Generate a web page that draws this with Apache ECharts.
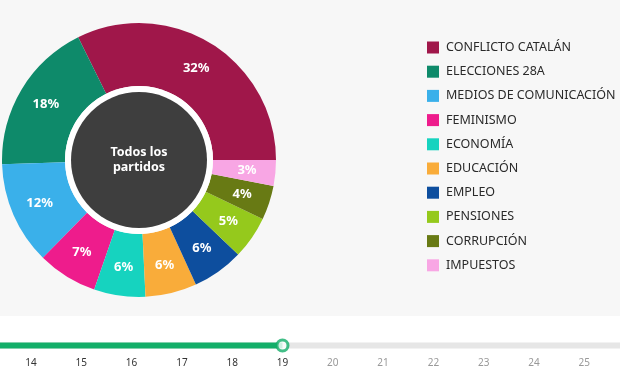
<!DOCTYPE html>
<html><head><meta charset="utf-8">
<script src="https://cdn.jsdelivr.net/npm/echarts@6/dist/echarts.min.js"></script>
<style>html,body{margin:0;padding:0;background:#fff}#c{width:620px;height:368px}</style>
</head><body><div id="c"></div>
<script>
const categories = ['CONFLICTO CATALÁN','ELECCIONES 28A','MEDIOS DE COMUNICACIÓN','FEMINISMO','ECONOMÍA','EDUCACIÓN','EMPLEO','PENSIONES','CORRUPCIÓN','IMPUESTOS'];
const values = [32, 18, 12, 7, 6, 6, 6, 5, 4, 3];
const colors = ['#a0174a','#0e8a6a','#3ab0ea','#ee1c8c','#16d3bf','#f9ac3a','#0d4e9e','#95c91c','#687a14','#f8a6e4'];
const centerLabel = 'Todos los\npartidos';
const days = [14,15,16,17,18,19,20,21,22,23,24,25];
const selectedDay = 19;

const FONT = '"Noto Sans", Lato, sans-serif';
const xMin = 13.384, xMax = 25.71;

const chart = echarts.init(document.getElementById('c'), null, {renderer:'canvas'});
chart.setOption({
  backgroundColor: '#ffffff',
  animation: false,
  graphic: [{type:'rect', shape:{x:0,y:0,width:620,height:316}, style:{fill:'#f7f7f7'}, z:-10}],
  legend: {
    orient: 'vertical', left: 427, top: 41, padding: 0,
    itemWidth: 12, itemHeight: 12, itemGap: 11.2, icon: 'rect',
    data: categories,
    textStyle: {fontFamily: FONT, fontSize: 12.5, color: '#2a2a2a', padding:[0,0,0,2]}
  },
  grid: {left: 0, right: 0, top: 336, height: 20},
  xAxis: {
    type: 'value', min: xMin, max: xMax,
    axisLine: {show:false}, axisTick: {show:false}, splitLine: {show:false},
    axisLabel: {
      customValues: days, margin: 3, fontSize: 10, fontFamily: FONT,
      color: function(v){ return v <= selectedDay ? '#333' : '#999'; }
    }
  },
  yAxis: {type:'value', min:-1, max:1, show:false},
  series: [
    {type:'line', data:[[xMin,0],[xMax,0]], symbol:'none', lineStyle:{color:'#e6e6e6', width:6}, silent:true, z:1},
    {type:'line', data:[[xMin,0],[selectedDay,0]], symbol:'none', lineStyle:{color:'#13ae69', width:6}, silent:true, z:2},
    {type:'scatter', data:[[selectedDay,0]], symbol:'circle', symbolSize:11, itemStyle:{color:'#fff', borderColor:'#13ae69', borderWidth:3}, z:3},
    {
      type:'pie', center:[139,160], radius:[74,137], startAngle:0, clockwise:false,
      data: categories.map((n,i)=>({name:n, value:values[i], itemStyle:{color:colors[i]}})),
      label: {show:true, position:'inside', formatter:'{c}%', color:'#fff', fontFamily: FONT, fontWeight:'bold', fontSize:13},
      labelLine:{show:false}, emphasis:{disabled:true}
    },
    {
      type:'pie', center:[139,160], radius:[0,74], silent:true, legendHoverLink:false,
      data:[{name:'_white', value:1, itemStyle:{color:'#ffffff'}}],
      label:{show:false}, labelLine:{show:false}, emphasis:{disabled:true}
    },
    {
      type:'pie', center:[139,160], radius:[0,68], silent:true,
      data:[{name:'_center', value:1, itemStyle:{color:'#3e3e3e'}}],
      label:{show:true, position:'center', formatter: centerLabel, color:'#fff', fontFamily: FONT, fontWeight:'bold', fontSize:12.5, lineHeight:15, padding:[0,0,7,0]},
      labelLine:{show:false}, emphasis:{disabled:true}
    }
  ]
});
</script></body></html>
